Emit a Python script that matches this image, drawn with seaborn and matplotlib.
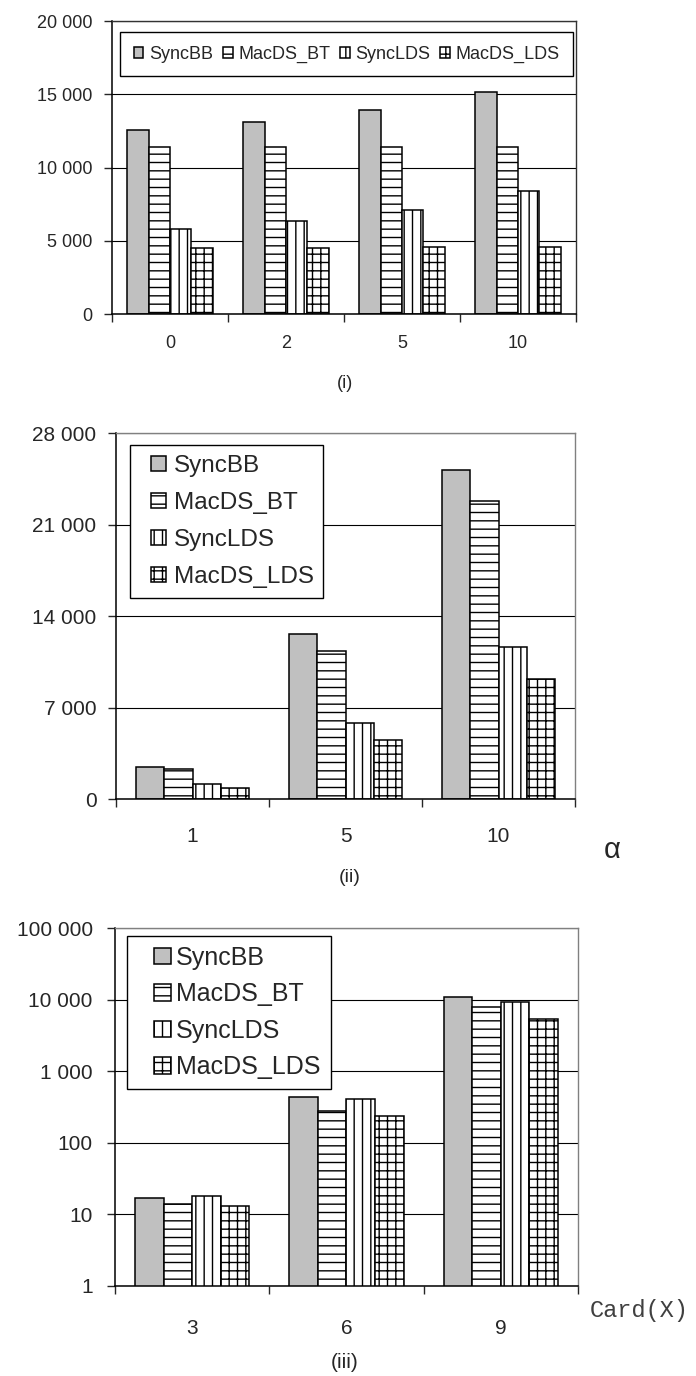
import numpy as np
import pandas as pd
import matplotlib
matplotlib.use("Agg")
import matplotlib.pyplot as plt
import matplotlib.patches as mpatches
import seaborn as sns
from matplotlib.legend_handler import HandlerPatch
from matplotlib.ticker import FuncFormatter, FixedLocator, NullLocator

# data
series = ["SyncBB", "MacDS_BT", "SyncLDS", "MacDS_LDS"]

cats_i = ["0", "2", "5", "10"]
syncbb_i = [12580, 13130, 13900, 15180]
macds_bt_i = [11420, 11420, 11420, 11420]
synclds_i = [5780, 6350, 7080, 8400]
macds_lds_i = [4510, 4510, 4600, 4600]

cats_ii = ["1", "5", "10"]
syncbb_ii = [2470, 12670, 25200]
macds_bt_ii = [2320, 11370, 22770]
synclds_ii = [1170, 5810, 11650]
macds_lds_ii = [890, 4540, 9210]

cats_iii = ["3", "6", "9"]
syncbb_iii = [16.9, 432, 11060]
macds_bt_iii = [14.0, 281, 7850]
synclds_iii = [18.0, 405, 9220]
macds_lds_iii = [13.2, 234, 5390]

yticks_i = [0, 5000, 10000, 15000, 20000]
yticks_ii = [0, 7000, 14000, 21000, 28000]
yticks_iii = [1, 10, 100, 1000, 10000, 100000]

fills = ["#c0c0c0", "white", "white", "white"]
hatches = ["", "--", "||", "++"]

sns.set_theme(style="white")
plt.rcParams["font.family"] = ["Liberation Sans", "DejaVu Sans"]
plt.rcParams["hatch.linewidth"] = 1.0


def long_table(cats, values):
    rows = [(c, s, v) for s, vals in zip(series, values) for c, v in zip(cats, vals)]
    return pd.DataFrame(rows, columns=["cat", "series", "value"])


def square_right(legend, orig_handle, xdescent, ydescent, width, height, fontsize):
    return mpatches.Rectangle((width - xdescent - height, -ydescent), height, height)


def draw_panel(ax, cats, values, yticks, log=False, tick_fs=13, xpad=15, ypad=8,
               frame_col="black"):
    df = long_table(cats, values)
    sns.barplot(data=df, x="cat", y="value", hue="series", order=cats,
                hue_order=series, palette=fills, saturation=1, width=0.74,
                edgecolor="black", linewidth=1.1, legend=False, ax=ax)
    for cont, fc, h in zip(ax.containers, fills, hatches):
        for p in cont:
            p.set_facecolor(fc)
            p.set_hatch(h)
            p.set_edgecolor("black")
    if log:
        ax.set_yscale("log")
    n = len(cats)
    ax.set_xlim(-0.5, n - 0.5)
    ax.set_ylim(yticks[0], yticks[-1])
    ax.yaxis.set_major_locator(FixedLocator(yticks))
    ax.yaxis.set_minor_locator(NullLocator())
    ax.yaxis.set_major_formatter(
        FuncFormatter(lambda v, p: f"{int(round(v)):,}".replace(",", " ")))
    ax.set_xticks(range(n))
    ax.set_xticklabels(cats)
    ax.set_xticks(np.arange(n + 1) - 0.5, minor=True)
    ax.tick_params(axis="x", which="major", length=0, pad=xpad, labelsize=tick_fs)
    ax.tick_params(axis="x", which="minor", length=6, width=1, direction="out",
                   bottom=True)
    ax.tick_params(axis="y", length=6, width=1, direction="out", left=True,
                   pad=ypad, labelsize=tick_fs)
    ax.yaxis.grid(True, color="black", linewidth=0.8)
    ax.set_axisbelow(True)
    ax.set_xlabel("")
    ax.set_ylabel("")
    for side in ["left", "bottom"]:
        ax.spines[side].set_color("black")
        ax.spines[side].set_linewidth(1.1)
    for side in ["top", "right"]:
        ax.spines[side].set_color(frame_col)
        ax.spines[side].set_linewidth(1.0)


fig = plt.figure(figsize=(6.96, 13.76), dpi=100)
square = {mpatches.Rectangle: HandlerPatch(patch_func=square_right)}

# (i)
ax1 = fig.add_axes([0.1609, 0.7718, 0.6667, 0.2129])
draw_panel(ax1, cats_i, [syncbb_i, macds_bt_i, synclds_i, macds_lds_i], yticks_i,
           tick_fs=13, xpad=15, ypad=8, frame_col="#333333")
leg1 = ax1.legend([c.patches[0] for c in ax1.containers], series, ncol=4,
                  loc="upper left", bbox_to_anchor=(0.0172, 0.9625), borderaxespad=0,
                  fontsize=13, handlelength=0.55, handleheight=0.55,
                  handletextpad=0.3, columnspacing=0.55, borderpad=0.75,
                  fancybox=False, framealpha=1, edgecolor="black")
leg1.get_frame().set_linewidth(1.0)

# (ii)
ax2 = fig.add_axes([0.1667, 0.4191, 0.6595, 0.2662])
draw_panel(ax2, cats_ii, [syncbb_ii, macds_bt_ii, synclds_ii, macds_lds_ii], yticks_ii,
           tick_fs=15, xpad=20, ypad=8, frame_col="#808080")
leg2 = ax2.legend([c.patches[0] for c in ax2.containers], series, ncol=1,
                  loc="upper left", bbox_to_anchor=(0.0305, 0.967), borderaxespad=0,
                  fontsize=17.5, handlelength=1.07, handleheight=0.58,
                  handletextpad=0.33, labelspacing=0.62, borderpad=0.4,
                  fancybox=False, framealpha=1, edgecolor="black", handler_map=square)
leg2.get_frame().set_linewidth(1.0)

# (iii)
ax3 = fig.add_axes([0.1652, 0.0656, 0.6652, 0.2597])
draw_panel(ax3, cats_iii, [syncbb_iii, macds_bt_iii, synclds_iii, macds_lds_iii],
           yticks_iii, log=True, tick_fs=15, xpad=24, ypad=10, frame_col="#808080")
leg3 = ax3.legend([c.patches[0] for c in ax3.containers], series, ncol=1,
                  loc="upper left", bbox_to_anchor=(0.025, 0.979), borderaxespad=0,
                  fontsize=18, handlelength=1.36, handleheight=0.62,
                  handletextpad=0.23, labelspacing=0.5, borderpad=0.4,
                  fancybox=False, framealpha=1, edgecolor="black", handler_map=square)
leg3.get_frame().set_linewidth(1.0)

# captions and axis names
fig.text(345 / 696, 1 - 383 / 1376, "(i)", ha="center", va="center", fontsize=13)
fig.text(350 / 696, 1 - 878 / 1376, "(ii)", ha="center", va="center", fontsize=14)
fig.text(345 / 696, 1 - 1362 / 1376, "(iii)", ha="center", va="center", fontsize=15)
fig.text(612 / 696, 1 - 850 / 1376, "α", ha="center", va="center", fontsize=21)
fig.text(590 / 696, 1 - 1310 / 1376, "Card(X)", ha="left", va="center", fontsize=17,
         family=["Liberation Mono", "DejaVu Sans Mono"], color="#404040")

fig.savefig("out.png", dpi=100)
